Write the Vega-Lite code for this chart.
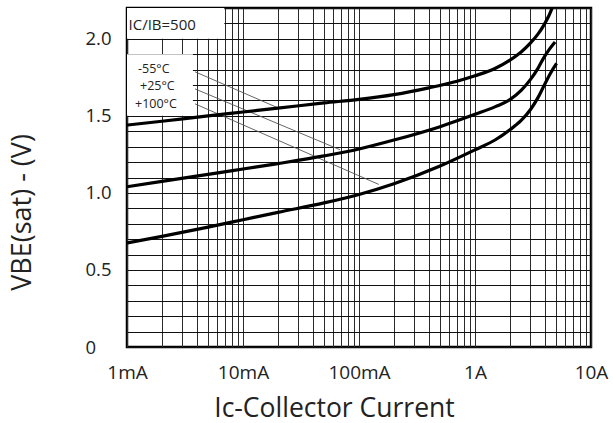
{
  "$schema": "https://vega.github.io/schema/vega-lite/v6.json",
  "width": 464,
  "height": 339,
  "autosize": {"type": "none"},
  "padding": {"left": 127, "top": 8, "right": 22, "bottom": 76},
  "background": "white",
  "config": {
    "font": "Open Sans",
    "view": {"stroke": "#000", "strokeWidth": 2.5}
  },
  "datasets": {
    "boxes": [
      {"x": 0.001, "x2": 0.0069, "y": 2.0, "y2": 2.2},
      {"x": 0.001, "x2": 0.0037, "y": 1.5, "y2": 1.9}
    ],
    "leaders": [
      {"x": 0.00386, "y": 1.786, "x2": 0.0196, "y2": 1.555},
      {"x": 0.00386, "y": 1.675, "x2": 0.0686, "y2": 1.28},
      {"x": 0.00386, "y": 1.578, "x2": 0.148, "y2": 1.055}
    ],
    "curves": [
      {"s": "-55", "x": 0.001, "y": 1.44},
      {"s": "-55", "x": 0.002, "y": 1.465},
      {"s": "-55", "x": 0.005, "y": 1.5},
      {"s": "-55", "x": 0.01, "y": 1.525},
      {"s": "-55", "x": 0.02, "y": 1.55},
      {"s": "-55", "x": 0.05, "y": 1.584},
      {"s": "-55", "x": 0.1, "y": 1.607},
      {"s": "-55", "x": 0.2, "y": 1.638},
      {"s": "-55", "x": 0.4, "y": 1.682},
      {"s": "-55", "x": 0.7, "y": 1.725},
      {"s": "-55", "x": 1, "y": 1.76},
      {"s": "-55", "x": 1.5, "y": 1.809},
      {"s": "-55", "x": 2, "y": 1.862},
      {"s": "-55", "x": 2.5, "y": 1.915},
      {"s": "-55", "x": 3, "y": 1.972},
      {"s": "-55", "x": 3.5, "y": 2.032},
      {"s": "-55", "x": 3.9, "y": 2.086},
      {"s": "-55", "x": 4.3, "y": 2.145},
      {"s": "-55", "x": 4.62, "y": 2.2},
      {"s": "25", "x": 0.001, "y": 1.04},
      {"s": "25", "x": 0.002, "y": 1.075},
      {"s": "25", "x": 0.005, "y": 1.12},
      {"s": "25", "x": 0.01, "y": 1.155},
      {"s": "25", "x": 0.02, "y": 1.19},
      {"s": "25", "x": 0.05, "y": 1.24},
      {"s": "25", "x": 0.1, "y": 1.285},
      {"s": "25", "x": 0.2, "y": 1.343},
      {"s": "25", "x": 0.5, "y": 1.43},
      {"s": "25", "x": 1, "y": 1.51},
      {"s": "25", "x": 1.5, "y": 1.56},
      {"s": "25", "x": 2, "y": 1.605},
      {"s": "25", "x": 2.5, "y": 1.665},
      {"s": "25", "x": 3, "y": 1.735},
      {"s": "25", "x": 3.5, "y": 1.81},
      {"s": "25", "x": 3.9, "y": 1.875},
      {"s": "25", "x": 4.4, "y": 1.935},
      {"s": "25", "x": 4.9, "y": 1.98},
      {"s": "100", "x": 0.001, "y": 0.675},
      {"s": "100", "x": 0.002, "y": 0.718},
      {"s": "100", "x": 0.005, "y": 0.778},
      {"s": "100", "x": 0.01, "y": 0.826},
      {"s": "100", "x": 0.02, "y": 0.874},
      {"s": "100", "x": 0.05, "y": 0.935},
      {"s": "100", "x": 0.1, "y": 0.99},
      {"s": "100", "x": 0.2, "y": 1.06},
      {"s": "100", "x": 0.5, "y": 1.175},
      {"s": "100", "x": 1, "y": 1.28},
      {"s": "100", "x": 1.5, "y": 1.345},
      {"s": "100", "x": 2, "y": 1.41},
      {"s": "100", "x": 2.5, "y": 1.47},
      {"s": "100", "x": 3, "y": 1.54},
      {"s": "100", "x": 3.5, "y": 1.62},
      {"s": "100", "x": 3.9, "y": 1.69},
      {"s": "100", "x": 4.5, "y": 1.78},
      {"s": "100", "x": 5.05, "y": 1.84}
    ],
    "labels": [
      {"t": "IC/IB=500", "x": 0.00103, "y": 2.09, "size": "big"},
      {"t": "-55°C", "x": 0.001244, "y": 1.803, "size": "small"},
      {"t": "+25°C", "x": 0.001294, "y": 1.694, "size": "small"},
      {"t": "+100°C", "x": 0.001172, "y": 1.58, "size": "small"}
    ]
  },
  "encoding": {
    "x": {
      "field": "x",
      "type": "quantitative",
      "title": "Ic-Collector Current",
      "scale": {"type": "log", "domain": [0.001, 10], "nice": false},
      "axis": {
        "values": [0.001, 0.002, 0.003, 0.004, 0.005, 0.006, 0.007, 0.008, 0.009,
                   0.01, 0.02, 0.03, 0.04, 0.05, 0.06, 0.07, 0.08, 0.09,
                   0.1, 0.2, 0.3, 0.4, 0.5, 0.6, 0.7, 0.8, 0.9,
                   1, 2, 3, 4, 5, 6, 7, 8, 9, 10],
        "labelExpr": "datum.value == 0.001 ? '1mA' : datum.value == 0.01 ? '10mA' : datum.value == 0.1 ? '100mA' : datum.value == 1 ? '1A' : datum.value == 10 ? '10A' : ''",
        "grid": true,
        "gridColor": "#2a2a2a",
        "gridWidth": 1,
        "gridOpacity": 1,
        "domain": false,
        "ticks": false,
        "tickSize": 0,
        "labelFont": "Open Sans",
        "labelFontSize": 19,
        "labelColor": "#222",
        "labelBaseline": "middle",
        "labelPadding": 25,
        "labelDx": 5,
        "labelOverlap": false,
        "labelFlush": false,
        "labelBound": false,
        "titleFont": "Open Sans",
        "titleFontSize": 26.5,
        "titleFontWeight": "normal",
        "titleColor": "#222",
        "titleX": 207,
        "titleY": 61,
        "titleAlign": "center",
        "titleBaseline": "middle"
      }
    },
    "y": {
      "field": "y",
      "type": "quantitative",
      "title": "VBE(sat) - (V)",
      "scale": {"domain": [0, 2.2], "nice": false, "zero": false},
      "axis": {
        "values": [0, 0.1, 0.2, 0.3, 0.4, 0.5, 0.6, 0.7, 0.8, 0.9, 1, 1.1, 1.2, 1.3, 1.4, 1.5, 1.6, 1.7, 1.8, 1.9, 2, 2.1, 2.2],
        "labelExpr": "datum.value == 0 ? '0' : datum.value == 0.5 ? '0.5' : datum.value == 1 ? '1.0' : datum.value == 1.5 ? '1.5' : datum.value == 2 ? '2.0' : ''",
        "grid": true,
        "gridColor": "#111",
        "gridWidth": 1,
        "gridOpacity": 1,
        "domain": false,
        "ticks": false,
        "tickSize": 0,
        "labelFont": "Open Sans",
        "labelFontSize": 18.5,
        "labelColor": "#222",
        "labelAlign": "left",
        "labelBaseline": "middle",
        "labelPadding": 42,
        "labelOverlap": false,
        "labelFlush": false,
        "labelBound": false,
        "titleFont": "Open Sans",
        "titleFontSize": 27,
        "titleFontWeight": "normal",
        "titleColor": "#222",
        "titleAngle": -90,
        "titleX": -105,
        "titleY": 204,
        "titleAlign": "center",
        "titleBaseline": "middle"
      }
    }
  },
  "layer": [
    {
      "data": {"name": "boxes"},
      "mark": {"type": "rect", "fill": "white", "stroke": null},
      "encoding": {
        "x2": {"field": "x2"},
        "y2": {"field": "y2"}
      }
    },
    {
      "data": {"name": "leaders"},
      "mark": {"type": "rule", "color": "#555", "strokeWidth": 0.9},
      "encoding": {
        "x2": {"field": "x2"},
        "y2": {"field": "y2"}
      }
    },
    {
      "data": {"name": "curves"},
      "mark": {"type": "line", "interpolate": "monotone", "strokeWidth": 3.2, "color": "#000", "strokeCap": "butt"},
      "encoding": {
        "detail": {"field": "s", "type": "nominal"}
      }
    },
    {
      "data": {"name": "labels"},
      "mark": {"type": "text", "align": "left", "baseline": "middle", "color": "#222", "font": "Open Sans"},
      "encoding": {
        "text": {"field": "t", "type": "nominal"},
        "size": {
          "field": "size",
          "type": "nominal",
          "scale": {"domain": ["big", "small"], "range": [15, 12.5]},
          "legend": null
        }
      }
    }
  ]
}
